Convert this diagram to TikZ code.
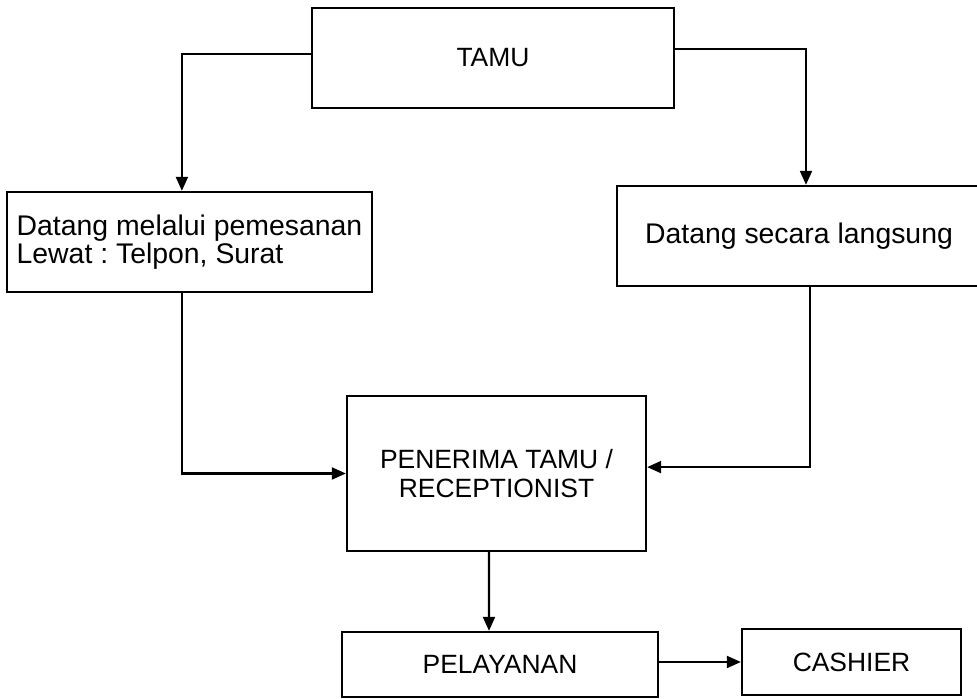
\documentclass[tikz,border=0pt]{standalone}
\usepackage{fontspec}
\setmainfont{Liberation Sans}
\usetikzlibrary{arrows.meta,calc}
\frenchspacing

\tikzset{
    box/.style={draw, line width=1.6pt, inner sep=0pt,
        font=\fontsize{18.8}{20.5}\selectfont},
    bigtext/.style={font=\fontsize{20.2}{19.5}\selectfont},
    arr/.style={line width=1.6pt, -{Triangle[length=10pt,width=8.5pt]}}
}

\begin{document}
\begin{tikzpicture}
    % Page size
    \def\W{24.425}
    \def\H{17.475}
    \useasboundingbox (0,0) rectangle (\W,\H);
    \clip (0,0) rectangle (\W,\H);
    % Boxes
    \node[box, minimum width=9.05cm, minimum height=2.5cm] (tamu) at (12.325,16.025) {TAMU};
    \node[box, bigtext, minimum width=9.125cm, minimum height=2.5cm, align=left] (pesan) at (4.7375,11.425)
        {Datang melalui pemesanan\\Lewat : Telpon, Surat};
    \node[box, bigtext, minimum width=9.1cm, minimum height=2.5cm] (langsung) at (19.975,11.575) {Datang secara langsung};
    \node[box, minimum width=7.475cm, minimum height=3.875cm, align=center] (terima) at (12.4125,5.6375)
        {PENERIMA TAMU /\\RECEPTIONIST};
    \node[box, minimum width=7.9cm, minimum height=1.625cm] (layan) at (12.5,0.8625) {PELAYANAN};
    \node[box, minimum width=5.475cm, minimum height=1.65cm] (cashier) at (21.2875,0.925) {CASHIER};
    % Connectors
    \draw[arr] ($(tamu.west)+(0,0.1)$) -| ($(pesan.north)+(-0.19,0)$);
    \draw[arr] ($(tamu.east)+(0,0.225)$) -| ($(langsung.north)+(0.175,0)$);
    \draw[arr] ($(pesan.south)+(-0.19,0)$) |- (terima.west);
    \draw[arr] ($(langsung.south)+(0.275,0)$) |- ($(terima.east)+(0,0.16)$);
    \draw[arr] ($(terima.south)+(-0.19,0)$) -- ($(layan.north)+(-0.275,0)$);
    \draw[arr] (layan.east |- cashier.west) -- (cashier.west);
\end{tikzpicture}
\end{document}
